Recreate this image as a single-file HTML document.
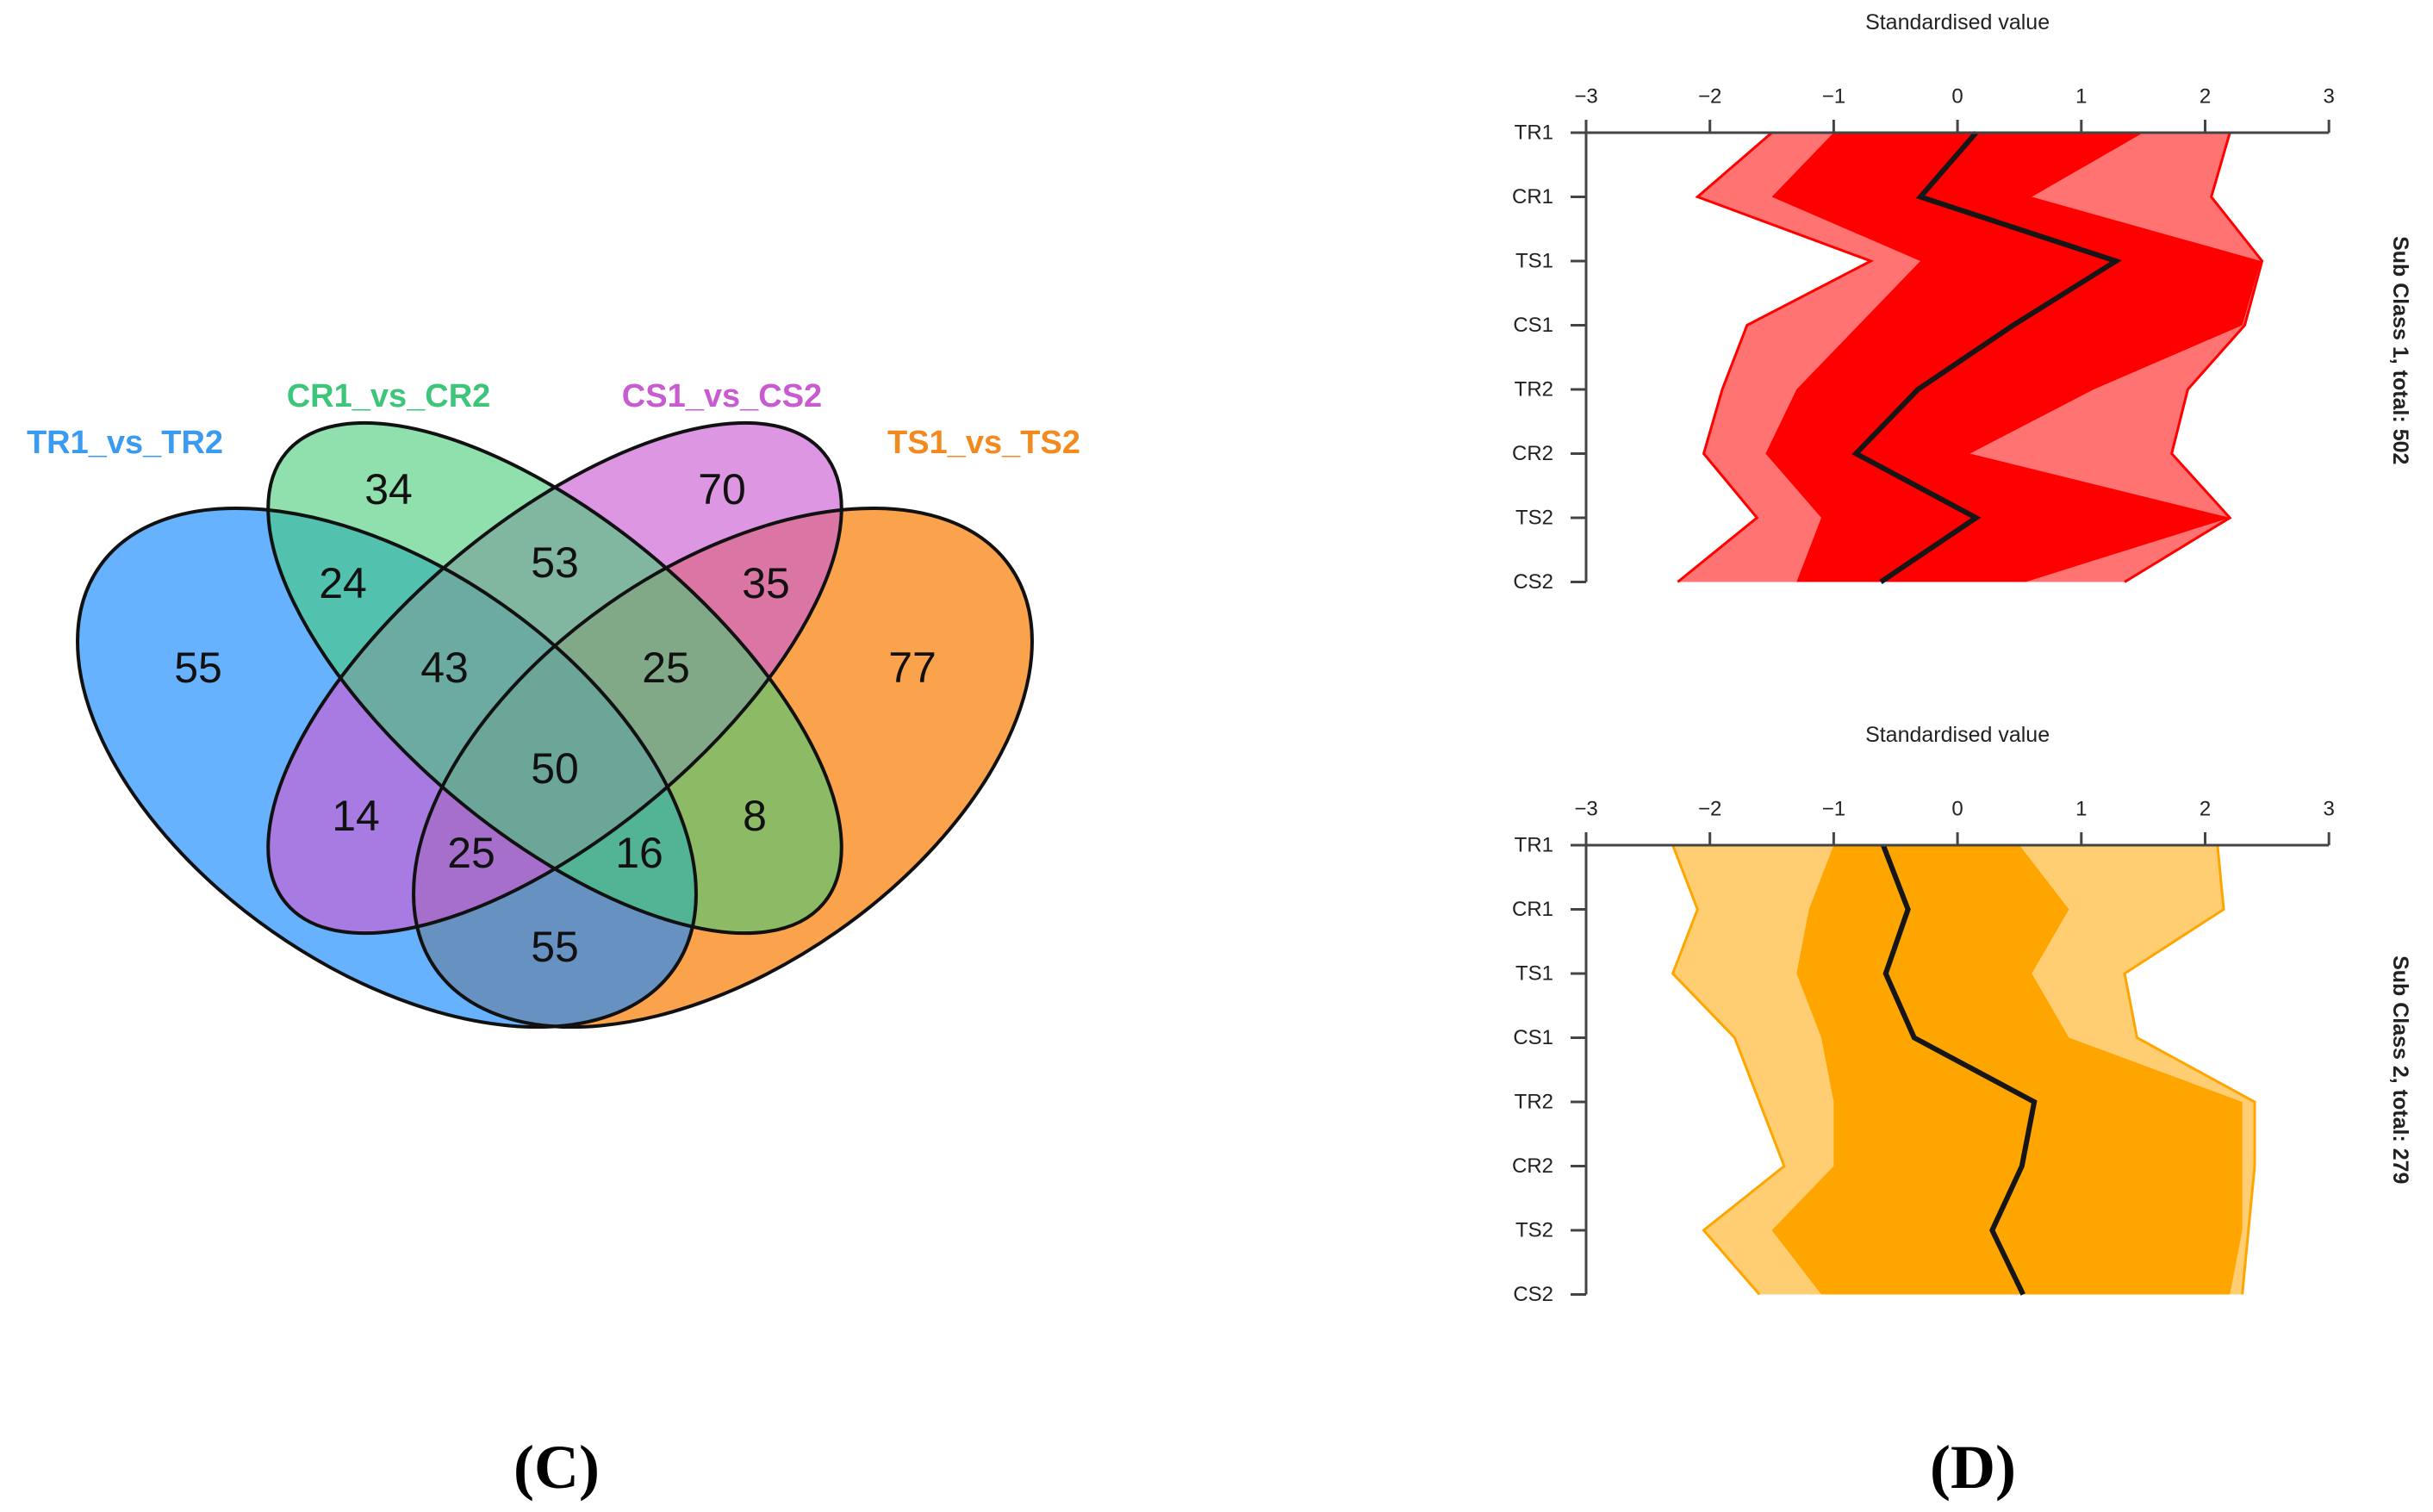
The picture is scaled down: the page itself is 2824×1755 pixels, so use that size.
<!DOCTYPE html>
<html><head><meta charset="utf-8"><style>
html,body{margin:0;padding:0;background:#fff;}
svg{display:block;font-family:"Liberation Sans",sans-serif;}
</style></head><body>
<svg id="root" width="2824" height="1755" viewBox="0 0 2824 1755" xmlns="http://www.w3.org/2000/svg">
<g id="venn">
  <ellipse cx="839" cy="891" rx="407" ry="232" transform="rotate(-35 839 891)" fill="rgb(249,122,0)" fill-opacity="0.7"/>
  <ellipse cx="449" cy="891" rx="407" ry="232" transform="rotate(35 449 891)" fill="rgb(21,137,255)" fill-opacity="0.65"/>
  <ellipse cx="644" cy="787" rx="407" ry="181" transform="rotate(-40 644 787)" fill="rgb(201,94,211)" fill-opacity="0.65"/>
  <ellipse cx="644" cy="787" rx="407" ry="181" transform="rotate(40 644 787)" fill="rgb(69,204,119)" fill-opacity="0.6"/>
  <g fill="none" stroke="#111" stroke-width="4">
    <ellipse cx="449" cy="891" rx="407" ry="232" transform="rotate(35 449 891)"/>
    <ellipse cx="644" cy="787" rx="407" ry="181" transform="rotate(40 644 787)"/>
    <ellipse cx="644" cy="787" rx="407" ry="181" transform="rotate(-40 644 787)"/>
    <ellipse cx="839" cy="891" rx="407" ry="232" transform="rotate(-35 839 891)"/>
  </g>
  <g font-size="38" font-weight="bold" text-anchor="middle" dominant-baseline="central">
    <text x="145" y="514" fill="#3a9bf0">TR1_vs_TR2</text>
    <text x="451" y="460" fill="#3dc57a">CR1_vs_CR2</text>
    <text x="838" y="460" fill="#c85bd0">CS1_vs_CS2</text>
    <text x="1142" y="514" fill="#f28a20">TS1_vs_TS2</text>
  </g>
  <g id="vcounts" font-size="50" text-anchor="middle" dominant-baseline="central" fill="#111"></g>
</g>
<g id="pc1"></g>
<g id="pc2"></g>
<text x="646" y="1703" font-family="Liberation Serif,serif" font-weight="bold" font-size="72" text-anchor="middle" dominant-baseline="central">(C)</text>
<text x="2290" y="1703" font-family="Liberation Serif,serif" font-weight="bold" font-size="72" text-anchor="middle" dominant-baseline="central">(D)</text>
</svg>
<script>
const vennCounts = [34,70,24,53,35,55,43,25,77,50,14,8,25,16,55];
const vennRegions = ["cr-only","cs-only","tr-cr","cr-cs","cs-ts","tr-only","tr-cr-cs","cr-cs-ts","ts-only","all","tr-cs","cr-ts","tr-cs-ts","tr-cr-ts","tr-ts"];
const vennPos = [[451,568],[838,568],[398,677],[644,653],[889,677],[230,775],[516,775],[773,775],[1059,775],[644,892],[413,947],[876,947],[547,990],[742,990],[644,1099]];

const rows = ["TR1","CR1","TS1","CS1","TR2","CR2","TS2","CS2"];
const ticks = [-3,-2,-1,0,1,2,3];
const c1Mean = [0.15,-0.3,1.28,0.45,-0.32,-0.82,0.15,-0.62];
const c1Min = [-1.5,-2.1,-0.7,-1.7,-1.9,-2.05,-1.62,-2.26];
const c1Max = [2.2,2.05,2.46,2.32,1.86,1.73,2.2,1.35];
const c1Lo = [-1.0,-1.5,-0.3,-0.8,-1.3,-1.55,-1.1,-1.3];
const c1Hi = [1.5,0.6,2.45,2.3,1.1,0.1,2.2,0.55];
const c2Mean = [-0.6,-0.4,-0.58,-0.35,0.62,0.52,0.28,0.53];
const c2Min = [-2.3,-2.1,-2.3,-1.8,-1.6,-1.4,-2.05,-1.6];
const c2Max = [2.1,2.15,1.35,1.45,2.4,2.4,2.35,2.3];
const c2Lo = [-1.0,-1.2,-1.3,-1.1,-1.0,-1.0,-1.5,-1.1];
const c2Hi = [0.5,0.9,0.6,0.9,2.3,2.3,2.3,2.2];

const NS="http://www.w3.org/2000/svg";
function mk(tag, attrs, parent){const e=document.createElementNS(NS,tag);for(const k in attrs)e.setAttribute(k,attrs[k]);parent.appendChild(e);return e;}

const vc=document.getElementById('vcounts');
vennCounts.forEach((v,i)=>{
  const t=mk('text',{x:vennPos[i][0],y:vennPos[i][1]},vc);
  
  
  t.textContent=v;
});

function drawPC(g, top, mean, mn, mx, lo, hi, color, label){
  const x0=1841, unit=143.7, sp=74.5;
  const X=v=>x0+(v+3)*unit;
  const Y=i=>top+i*sp;
  const pts=(arr)=>arr.map((v,i)=>X(v)+','+Y(i));
  const env=mk('polygon',{points:pts(mx).concat(pts(mn).reverse()).join(' '),fill:color,'fill-opacity':'0.55'},g);
  
  
  const l1=mk('polyline',{points:pts(mn).join(' '),fill:'none',stroke:color,'stroke-width':3},g);
  
  
  const l2=mk('polyline',{points:pts(mx).join(' '),fill:'none',stroke:color,'stroke-width':3},g);
  
  
  const band=mk('polygon',{points:pts(hi).concat(pts(lo).reverse()).join(' '),fill:color},g);
  
  
  const ml=mk('polyline',{points:pts(mean).join(' '),fill:'none',stroke:'#161616','stroke-width':6},g);
  
  
  const ax=mk('line',{x1:X(-3),y1:top,x2:X(3),y2:top,stroke:'#444','stroke-width':3},g);
  
  
  const ay=mk('line',{x1:X(-3),y1:top,x2:X(-3),y2:Y(rows.length-1),stroke:'#444','stroke-width':3},g);
  
  
  ticks.forEach(t=>{
    const tk=mk('line',{x1:X(t),y1:top-15,x2:X(t),y2:top,stroke:'#444','stroke-width':3},g);
    
    
    const tl=mk('text',{x:X(t),y:top-42,'font-size':24,'text-anchor':'middle','dominant-baseline':'central',fill:'#222'},g);
    
    
    tl.textContent=(t<0?'\u2212':'')+Math.abs(t);
  });
  rows.forEach((r,i)=>{
    const tk=mk('line',{x1:X(-3)-18,y1:Y(i),x2:X(-3),y2:Y(i),stroke:'#444','stroke-width':3},g);
    
    
    const tl=mk('text',{x:1803,y:Y(i),'font-size':24,'text-anchor':'end','dominant-baseline':'central',fill:'#222'},g);
    
    
    tl.textContent=r;
  });
  const tt=mk('text',{x:X(0),y:top-128,'font-size':25,'text-anchor':'middle','dominant-baseline':'central',fill:'#222'},g);
  
  
  tt.textContent='Standardised value';
  const cy=top+3.5*sp+(top<500?-8:0);
  const rl=mk('text',{x:2786,y:cy,'font-size':25,'font-weight':'bold','text-anchor':'middle','dominant-baseline':'central',fill:'#222',transform:'rotate(90 2786 '+cy+')'},g);
  
  
  rl.textContent=label;
}
drawPC(document.getElementById('pc1'),154,c1Mean,c1Min,c1Max,c1Lo,c1Hi,'#ff0000','Sub Class 1, total: 502');
drawPC(document.getElementById('pc2'),981,c2Mean,c2Min,c2Max,c2Lo,c2Hi,'#ffa500','Sub Class 2, total: 279');
</script>
</body></html>
